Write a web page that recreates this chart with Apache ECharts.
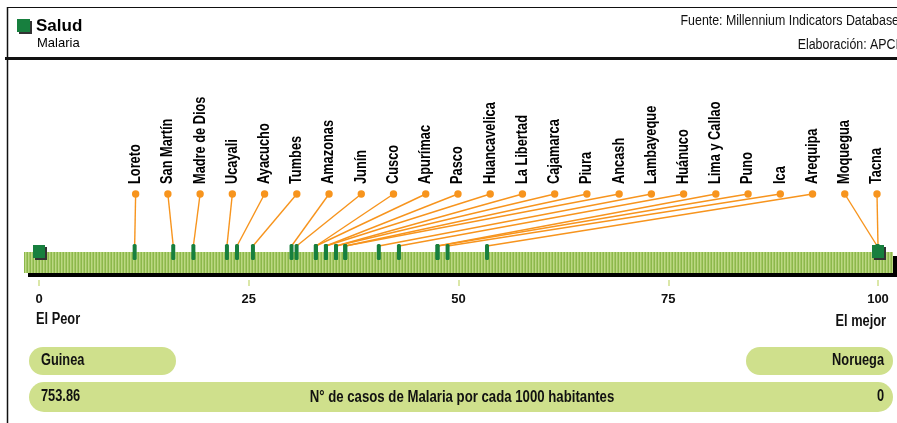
<!DOCTYPE html>
<html><head><meta charset="utf-8">
<script src="https://cdn.jsdelivr.net/npm/echarts@6/dist/echarts.min.js"></script>
<style>html,body{margin:0;padding:0;background:#fff;}#c{width:897px;height:423px;}</style>
</head><body><div id="c"></div>
<script>
// ---- data ----
const regions = ['Loreto','San Martín','Madre de Dios','Ucayali','Ayacucho','Tumbes','Amazonas','Junín','Cusco','Apurímac','Pasco','Huancavelica','La Libertad','Cajamarca','Piura','Ancash','Lambayeque','Huánuco','Lima y Callao','Puno','Ica','Arequipa','Moquegua','Tacna'];
const regionValues = [11.4,16.0,18.4,22.4,23.6,25.5,30.1,30.7,33.0,33.0,34.2,34.2,35.4,35.4,36.5,36.5,40.5,42.9,47.5,47.5,48.7,53.4,99.9,100];
const tickValues = [0,25,50,75,100];
const extremesValues = [0,100];
const extremesCountries = ['Guinea','Noruega'];
const extremesRaw = ['753.86','0'];
const endLabels = ['El Peor','El mejor'];
const indicatorLabel = 'N° de casos de Malaria por cada 1000 habitantes';
const titleText = 'Salud';
const subtitleText = 'Malaria';
const sourceText = 'Fuente: Millennium Indicators Database';
const authorText = 'Elaboración: APCI';

// ---- styles ----
const SANS = "'Liberation Sans',Arial,sans-serif";
const SX = 0.8; // condensed look
const ORANGE = '#f7941d';
const DKGREEN = '#177f3e';
const PILL = '#cfe08c';

const pc = document.createElement('canvas');
pc.width = 3; pc.height = 4;
const pctx = pc.getContext('2d');
['#8cb84b','#bcd883','#a3c765'].forEach((c,i)=>{pctx.fillStyle=c;pctx.fillRect(i,0,1,4);});

const chart = echarts.init(document.getElementById('c'), null, {renderer:'canvas'});
const n = regions.length;

function ntext(x, y, text, size, bold, align, z) {
  return {type:'text', z: z || 1, x: x, y: y, scaleX: SX,
    style:{text: text, font: (bold ? 'bold ' : '') + size + 'px ' + SANS, fill: '#111',
           align: align || 'left', verticalAlign: 'middle'}};
}

const option = {
  animation: false,
  backgroundColor: '#fff',
  grid: {left: 39, right: 19, top: 100, bottom: 143},
  xAxis: {
    type: 'value', min: tickValues[0], max: tickValues[tickValues.length-1], interval: 25,
    axisLine: {show: false}, splitLine: {show: false},
    axisTick: {show: true, length: 6, lineStyle: {color: '#cfe08c', width: 1.5}},
    axisLabel: {margin: 13, fontFamily: SANS, fontWeight: 'bold', fontSize: 13, color: '#111'}
  },
  yAxis: {type: 'value', min: 0, max: 1, show: false},
  graphic: [
    {type:'line', z:0, shape:{x1:7.5,y1:7,x2:7.5,y2:423}, style:{stroke:'#111',lineWidth:1.5}},
    {type:'line', z:0, shape:{x1:7,y1:7.5,x2:897,y2:7.5}, style:{stroke:'#111',lineWidth:1}},
    {type:'rect', z:0, shape:{x:5,y:57,width:892,height:3}, style:{fill:'#111'}},
    {type:'rect', z:0, shape:{x:19,y:21,width:13,height:13}, style:{fill:'#333'}},
    {type:'rect', z:0, shape:{x:17,y:19,width:13,height:13}, style:{fill:DKGREEN}},
    {type:'text', z:0, x:36, y:26, style:{text:titleText, font:'bold 17px '+SANS, fill:'#000', verticalAlign:'middle'}},
    {type:'text', z:0, x:37, y:43, style:{text:subtitleText, font:'13px '+SANS, fill:'#000', verticalAlign:'middle'}},
    ntext(899, 21, sourceText, 15.5, false, 'right', 0),
    ntext(899, 45, authorText, 15.5, false, 'right', 0),
    {type:'rect', z:0, shape:{x:28,y:256,width:869,height:21}, style:{fill:'#000'}},
    {type:'rect', z:0, shape:{x:24,y:252,width:869,height:21}, style:{fill:{image:pc, repeat:'repeat'}}},
    ntext(36, 320, endLabels[0], 16, true, 'left'),
    ntext(886, 322, endLabels[1], 16, true, 'right'),
    {type:'rect', z:0, shape:{x:29,y:347,width:147,height:28,r:14}, style:{fill:PILL}},
    {type:'rect', z:0, shape:{x:746,y:347,width:147,height:28,r:14}, style:{fill:PILL}},
    {type:'rect', z:0, shape:{x:29,y:382,width:864,height:30,r:15}, style:{fill:PILL}},
    ntext(41, 361, extremesCountries[0], 16, true, 'left'),
    ntext(884, 361, extremesCountries[1], 16, true, 'right'),
    ntext(41, 397, extremesRaw[0], 16, true, 'left'),
    ntext(462, 397, indicatorLabel, 16.5, true, 'center'),
    ntext(884, 397, extremesRaw[1], 16, true, 'right')
  ],
  series: [
    {
      type: 'custom', name: 'conectores', z: 3,
      data: regionValues.map((v,i)=>[v,i]),
      renderItem: function(params, api) {
        const i = params.dataIndex;
        const mx = api.coord([api.value(0), 0])[0];
        const x0 = api.coord([regionValues[0], 0])[0];
        const x1 = api.coord([regionValues[n-1], 0])[0];
        const dx = x0 + 1 + i * (x1 - x0 - 2) / (n - 1);
        return {type:'group', children:[
          {type:'line', shape:{x1:dx,y1:194,x2:mx,y2:246}, style:{stroke:ORANGE,lineWidth:1.4}},
          {type:'circle', shape:{cx:dx,cy:194,r:3.7}, style:{fill:ORANGE}},
          {type:'text', x:dx, y:184, rotation:Math.PI/2, scaleX: SX,
           style:{text:regions[i], font:'bold 16px '+SANS, fill:'#000', align:'left', verticalAlign:'middle'}}
        ]};
      }
    },
    {
      type: 'custom', name: 'regiones', z: 4,
      data: regionValues.map((v,i)=>[v,i]),
      renderItem: function(params, api) {
        const mx = api.coord([api.value(0), 0])[0];
        return {type:'rect', shape:{x:mx-2,y:244,width:4,height:16,r:1.5}, style:{fill:DKGREEN}};
      }
    },
    {
      type: 'custom', name: 'extremos', z: 5,
      data: extremesValues.map((v,i)=>[v,i]),
      renderItem: function(params, api) {
        const mx = api.coord([api.value(0), 0])[0];
        return {type:'group', children:[
          {type:'rect', shape:{x:mx-4,y:247,width:12,height:13}, style:{fill:'#333'}},
          {type:'rect', shape:{x:mx-6,y:245,width:12,height:13}, style:{fill:DKGREEN}}
        ]};
      }
    }
  ]
};
chart.setOption(option);
</script>
</body></html>
